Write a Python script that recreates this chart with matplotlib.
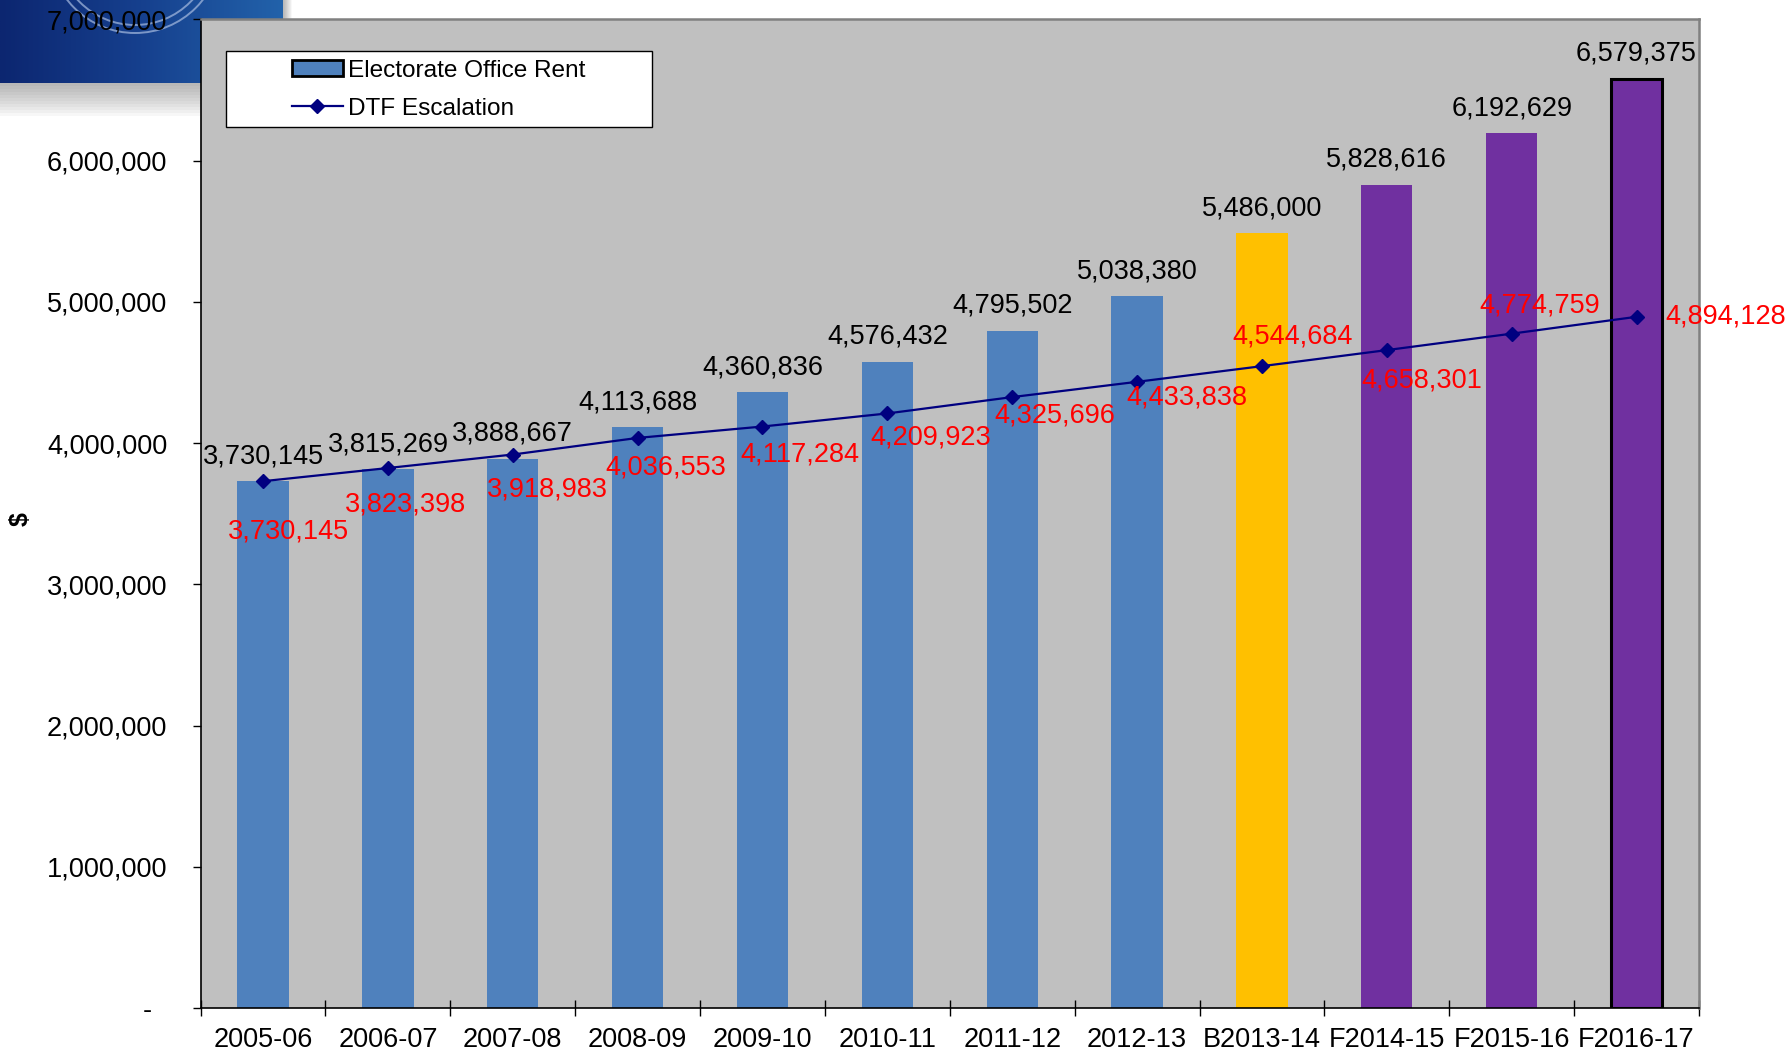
import numpy as np
import matplotlib.pyplot as plt
from matplotlib.patches import Patch, Rectangle, FancyBboxPatch, Circle
from matplotlib.lines import Line2D
from matplotlib.ticker import FuncFormatter
from matplotlib.colors import LinearSegmentedColormap

plt.rcParams['font.family'] = ['Liberation Sans', 'DejaVu Sans']

# data
years = ["2005-06", "2006-07", "2007-08", "2008-09", "2009-10", "2010-11",
         "2011-12", "2012-13", "B2013-14", "F2014-15", "F2015-16", "F2016-17"]
rent = [3730145, 3815269, 3888667, 4113688, 4360836, 4576432,
        4795502, 5038380, 5486000, 5828616, 6192629, 6579375]
dtf = [3730145, 3823398, 3918983, 4036553, 4117284, 4209923,
       4325696, 4433838, 4544684, 4658301, 4774759, 4894128]

bar_colors = ["#4F81BD"] * 8 + ["#FFC000"] + ["#7030A0"] * 3
# red label offsets (points), hand placed like in the original
dtf_offsets = [(18, -36), (13, -26), (25, -25), (20, -21), (27, -20), (31, -17),
               (31, -13), (36, -11), (22, 21), (25, -22), (20, 20), (64, 0)]

FS = 19.5

fig = plt.figure(figsize=(17.88, 10.53), dpi=100)

# logo box in the top left corner (sits behind the chart)
logo = fig.add_axes([0, 1 - 125 / 1053, 310 / 1788, 125 / 1053])
logo.set_xlim(0, 310)
logo.set_ylim(125, 0)
logo.axis('off')
for i in range(12):
    sh = FancyBboxPatch((-40, -40), 323 + i * 0.8, 123 + i * 3.0,
                        boxstyle="round,pad=0,rounding_size=38",
                        facecolor='#505050', edgecolor='none', alpha=0.045, zorder=1)
    logo.add_patch(sh)
box = FancyBboxPatch((-40, -40), 323, 123, boxstyle="round,pad=0,rounding_size=34",
                     facecolor='none', edgecolor='none')
logo.add_patch(box)
cmap = LinearSegmentedColormap.from_list('logo', ['#0C2670', '#16408E', '#2262AA'])
grad = np.linspace(0, 1, 256).reshape(1, -1)
img = logo.imshow(grad, cmap=cmap, extent=(0, 283, 83, -40), aspect='auto', zorder=2)
img.set_clip_path(box)
for r in (78, 86):
    c = Circle((135, -53), r, fill=False, edgecolor='#A8BCE0', lw=1.4, alpha=0.7, zorder=3)
    logo.add_patch(c)
    c.set_clip_path(box)

# main chart
ax = fig.add_axes([0.1122, 0.0427, 0.8380, 0.9389])
ax.set_facecolor('#C0C0C0')

x = np.arange(len(years))
edges = ['none'] * 11 + ['black']
widths = [0] * 11 + [2.2]
ax.bar(x, rent, width=0.41, color=bar_colors, edgecolor=edges, linewidth=widths, zorder=2)
ax.plot(x, dtf, color='#000080', lw=1.6, marker='D', ms=7, zorder=3)

ax.set_xlim(-0.5, len(years) - 0.5)
ax.set_ylim(0, 7000000)

# bar value labels
for xi, v in zip(x, rent):
    ax.annotate(f"{v:,}", (xi, v), xytext=(0, 18), textcoords='offset points',
                ha='center', va='center', fontsize=FS, color='black')

# escalation value labels
for xi, v, off in zip(x, dtf, dtf_offsets):
    ax.annotate(f"{v:,}", (xi, v), xytext=off, textcoords='offset points',
                ha='center', va='center', fontsize=FS, color='red', zorder=4)

# axes
ax.set_yticks(np.arange(0, 7000001, 1000000))
ax.yaxis.set_major_formatter(FuncFormatter(lambda v, p: '-  ' if v == 0 else f"{v:,.0f}"))
ax.tick_params(axis='y', direction='out', length=6, width=1, pad=18, labelsize=FS)
ax.set_xticks(x)
ax.set_xticklabels(years)
ax.set_xticks(np.arange(-0.5, len(years)), minor=True)
ax.tick_params(axis='x', which='major', length=0, pad=14, labelsize=FS)
ax.tick_params(axis='x', which='minor', direction='inout', length=12, width=1)

for s in ['left', 'bottom']:
    ax.spines[s].set_color('black')
    ax.spines[s].set_linewidth(1.2)
for s in ['top', 'right']:
    ax.spines[s].set_color('#808080')
    ax.spines[s].set_linewidth(1.8)

fig.text(20.5 / 1788, 1 - 519 / 1053, '$', rotation=90, fontsize=18,
         fontweight='bold', ha='center', va='center')

# legend: white box with the entries centred in it
ax.add_patch(Rectangle((0.01669, 0.8915), 0.2843, 0.0769, transform=ax.transAxes,
                       facecolor='white', edgecolor='black', lw=1, zorder=5))
handles = [Patch(facecolor='#4F81BD', edgecolor='black', lw=2),
           Line2D([], [], color='#000080', lw=1.6, marker='D', ms=7)]
leg = ax.legend(handles, ['Electorate Office Rent', 'DTF Escalation'], loc='center',
                bbox_to_anchor=(0.1588, 0.929), frameon=False, fontsize=17.6,
                handlelength=2.1, handleheight=0.6, handletextpad=0.2,
                labelspacing=0.65, borderpad=0)
leg.set_zorder(6)

fig.savefig('out.png', dpi=100)
